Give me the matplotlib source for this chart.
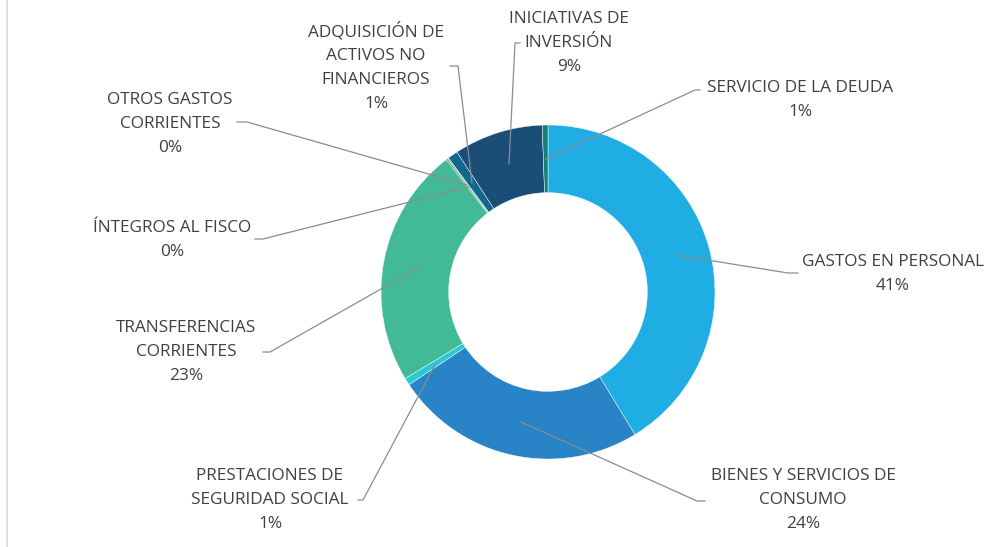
import matplotlib
matplotlib.use("Agg")
import matplotlib.pyplot as plt

# share of spending per item, in percent
categories = ["GASTOS EN PERSONAL", "BIENES Y SERVICIOS DE\nCONSUMO",
              "PRESTACIONES DE\nSEGURIDAD SOCIAL", "TRANSFERENCIAS\nCORRIENTES",
              "ÍNTEGROS AL FISCO", "OTROS GASTOS\nCORRIENTES",
              "ADQUISICIÓN DE\nACTIVOS NO\nFINANCIEROS", "INICIATIVAS DE\nINVERSIÓN",
              "SERVICIO DE LA DEUDA"]
values = [41.2, 24.3, 0.7, 23.2, 0.15, 0.1, 1.0, 8.6, 0.55]
colors = ["#1FADE3", "#2884C6", "#29CAD6", "#43BA97", "#3C9A6E", "#6FA9A4",
          "#10698C", "#1A4E76", "#168078"]

W, H = 985, 547

# label centre, elbow end near label, point on the slice (pixel coords, y down)
label_pos = [(893, 274), (803, 500), (270, 500), (186, 352), (172, 240),
             (170, 124), (376, 67), (569, 43), (800, 100)]
elbow = [((798, 273), (788, 273)), ((705, 501), (697, 501)),
         ((358, 500), (363, 500)), ((263, 352), (270, 352)),
         ((255, 239), (263, 239)), ((237, 122), (247, 122)),
         ((450, 66), (458, 66)), ((520, 43), (515, 43)),
         ((700, 90), (695, 90))]
anchor = [(676, 255), (521, 422), (436, 363), (418, 268), (469, 187),
          (467, 185), (472, 183), (509, 164), (546, 159)]

fig = plt.figure(figsize=(W / 100, H / 100), dpi=100)
ax = fig.add_axes([0, 0, 1, 1])

ax.pie(values, colors=colors, startangle=90, counterclock=False,
       center=(548, H - 292), radius=167,
       wedgeprops=dict(width=167 * 0.405, edgecolor="white", linewidth=0.3))

total = sum(values)
for lab, (tx, ty), (e_out, e_in), (px, py), v in zip(categories, label_pos, elbow, anchor, values):
    xs = [e_out[0], e_in[0], px]
    ys = [H - e_out[1], H - e_in[1], H - py]
    ax.plot(xs, ys, color="#8c8c8c", lw=0.9, zorder=5)
    ax.text(tx, H - ty, f"{lab}\n{round(v / total * 100):.0f}%", ha="center", va="center",
            fontsize=12.4, color="#404040", family=["Open Sans", "DejaVu Sans"],
            linespacing=1.65, zorder=6)

ax.plot([7, 7], [0, H], color="#d9d9d9", lw=1.2)

ax.set_xlim(0, W)
ax.set_ylim(0, H)
ax.set_aspect("equal")
ax.axis("off")

fig.savefig("out.png", dpi=100)
